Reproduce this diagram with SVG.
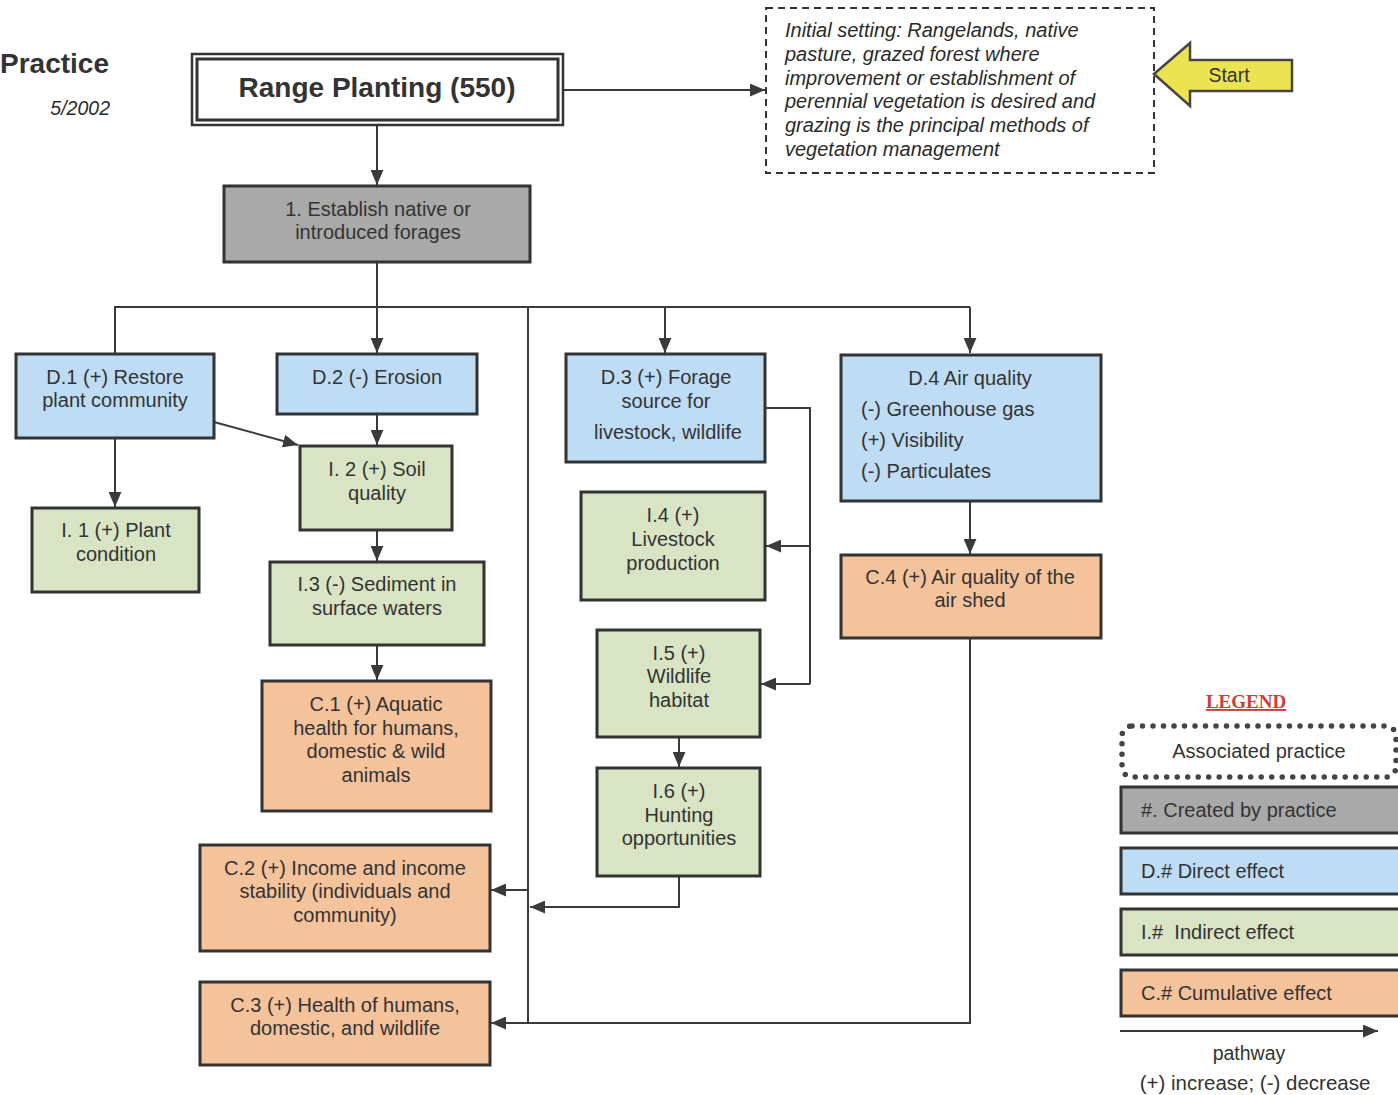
<svg xmlns="http://www.w3.org/2000/svg" width="1398" height="1095" viewBox="0 0 1398 1095">
  <style>
    .t { font-family: "Liberation Sans", Arial, sans-serif; font-size: 20px; fill: #333; text-anchor: middle; }
    .l { text-anchor: start; }
    .it { font-family: "Liberation Sans", Arial, sans-serif; font-size: 20px; font-style: italic; fill: #2a2a2a; }
    .box { stroke: #333; stroke-width: 3; }
    .gray { fill: #a9a9a9; }
    .blue { fill: #bfdcf5; }
    .green { fill: #d8e4c3; }
    .orange { fill: #f4c29b; }
    .wire { fill: none; stroke: #3a3a3a; stroke-width: 2; }
    .arr { marker-end: url(#head); }
  </style>
  <defs>
    <marker id="head" viewBox="0 0 14 12" refX="14" refY="6" markerWidth="15" markerHeight="13" markerUnits="userSpaceOnUse" orient="auto">
      <path d="M0,0 L14,6 L0,12 Z" fill="#3a3a3a"/>
    </marker>
  </defs>

  <rect width="1398" height="1095" fill="#ffffff"/>

  <!-- heading -->
  <g id="heading">
    <text x="0" y="73" style="font-family:'Liberation Sans',Arial,sans-serif;font-size:28px;font-weight:bold;fill:#333">Practice</text>
    <text x="110" y="115" class="it" style="font-size:19.5px;text-anchor:end">5/2002</text>
  </g>

  <!-- connectors -->
  <g id="connectors">
    <path class="wire arr" d="M563,90 H765"/>
    <path class="wire arr" d="M377,125 V185"/>
    <path class="wire" d="M377,262 V307"/>
    <path class="wire" d="M115,354 V307 H970"/>
    <path class="wire arr" d="M377,307 V353"/>
    <path class="wire arr" d="M665,307 V353"/>
    <path class="wire arr" d="M970,307 V353"/>
    <path class="wire" d="M528,307 V1023"/>
    <path class="wire arr" d="M115,438 V507"/>
    <path class="wire arr" d="M214,422 L298,445"/>
    <path class="wire arr" d="M377,414 V445"/>
    <path class="wire arr" d="M377,530 V561"/>
    <path class="wire arr" d="M377,645 V680"/>
    <path class="wire" d="M765,408 H810 V684"/>
    <path class="wire arr" d="M810,546 H766"/>
    <path class="wire arr" d="M810,684 H761"/>
    <path class="wire arr" d="M679,737 V767"/>
    <path class="wire arr" d="M679,876 V907 H530"/>
    <path class="wire arr" d="M528,890 H491"/>
    <path class="wire arr" d="M970,501 V554"/>
    <path class="wire arr" d="M970,638 V1023 H491"/>
  </g>

  <!-- practice -->
  <g id="range-planting">
    <rect x="192" y="54" width="371" height="71" fill="#fff" stroke="#333" stroke-width="2.5"/>
    <rect x="197" y="59" width="361" height="61" fill="none" stroke="#333" stroke-width="3"/>
    <text x="377" y="97" class="t" style="font-size:28px;font-weight:bold">Range Planting (550)</text>
  </g>

  <g id="initial-setting">
    <rect x="766" y="8" width="388" height="165" fill="#fff" stroke="#333" stroke-width="2" stroke-dasharray="7 5"/>
    <text class="it">
      <tspan x="785" y="37">Initial setting: Rangelands, native</tspan>
      <tspan x="785" y="61">pasture, grazed forest where</tspan>
      <tspan x="785" y="85">improvement or establishment of</tspan>
      <tspan x="785" y="108">perennial vegetation is desired and</tspan>
      <tspan x="785" y="132">grazing is the principal methods of</tspan>
      <tspan x="785" y="156">vegetation management</tspan>
    </text>
  </g>

  <g id="start">
    <polygon points="1154,74 1190,43 1190,60 1292,60 1292,91 1190,91 1190,106" fill="#ece352" stroke="#444" stroke-width="2.5" stroke-linejoin="miter"/>
    <text x="1229" y="82" class="t" style="font-size:19.5px">Start</text>
  </g>

  <g id="n1">
    <rect x="224" y="186" width="306" height="76" class="box gray"/>
    <text class="t"><tspan x="378" y="216">1. Establish native or</tspan><tspan x="378" y="239">introduced forages</tspan></text>
  </g>

  <!-- direct effects -->
  <g id="d1">
    <rect x="16" y="354" width="198" height="84" class="box blue"/>
    <text class="t"><tspan x="115" y="384">D.1 (+) Restore</tspan><tspan x="115" y="407">plant community</tspan></text>
  </g>
  <g id="d2">
    <rect x="277" y="354" width="200" height="60" class="box blue"/>
    <text x="377" y="384" class="t">D.2 (-) Erosion</text>
  </g>
  <g id="d3">
    <rect x="566" y="354" width="199" height="108" class="box blue"/>
    <text class="t"><tspan x="666" y="384">D.3 (+) Forage</tspan><tspan x="666" y="408">source for</tspan><tspan x="668" y="439">livestock, wildlife</tspan></text>
  </g>
  <g id="d4">
    <rect x="841" y="355" width="260" height="146" class="box blue"/>
    <text x="970" y="385" class="t">D.4 Air quality</text>
    <text class="t l"><tspan x="861" y="416">(-) Greenhouse gas</tspan><tspan x="861" y="447">(+) Visibility</tspan><tspan x="861" y="478">(-) Particulates</tspan></text>
  </g>

  <!-- indirect effects -->
  <g id="i1">
    <rect x="32" y="508" width="167" height="84" class="box green"/>
    <text class="t"><tspan x="116" y="537">I. 1 (+) Plant</tspan><tspan x="116" y="561">condition</tspan></text>
  </g>
  <g id="i2">
    <rect x="300" y="446" width="152" height="84" class="box green"/>
    <text class="t"><tspan x="377" y="476">I. 2 (+) Soil</tspan><tspan x="377" y="500">quality</tspan></text>
  </g>
  <g id="i3">
    <rect x="270" y="562" width="214" height="83" class="box green"/>
    <text class="t"><tspan x="377" y="591">I.3 (-) Sediment in</tspan><tspan x="377" y="615">surface waters</tspan></text>
  </g>
  <g id="i4">
    <rect x="581" y="492" width="184" height="108" class="box green"/>
    <text class="t"><tspan x="673" y="522">I.4 (+)</tspan><tspan x="673" y="546">Livestock</tspan><tspan x="673" y="570">production</tspan></text>
  </g>
  <g id="i5">
    <rect x="597" y="630" width="163" height="107" class="box green"/>
    <text class="t"><tspan x="679" y="660">I.5 (+)</tspan><tspan x="679" y="683">Wildlife</tspan><tspan x="679" y="707">habitat</tspan></text>
  </g>
  <g id="i6">
    <rect x="597" y="768" width="163" height="108" class="box green"/>
    <text class="t"><tspan x="679" y="798">I.6 (+)</tspan><tspan x="679" y="822">Hunting</tspan><tspan x="679" y="845">opportunities</tspan></text>
  </g>

  <!-- cumulative effects -->
  <g id="c1">
    <rect x="262" y="681" width="229" height="130" class="box orange"/>
    <text class="t"><tspan x="376" y="711">C.1 (+) Aquatic</tspan><tspan x="376" y="735">health for humans,</tspan><tspan x="376" y="758">domestic &amp; wild</tspan><tspan x="376" y="782">animals</tspan></text>
  </g>
  <g id="c2">
    <rect x="200" y="845" width="290" height="106" class="box orange"/>
    <text class="t"><tspan x="345" y="875">C.2 (+) Income and income</tspan><tspan x="345" y="898">stability (individuals and</tspan><tspan x="345" y="922">community)</tspan></text>
  </g>
  <g id="c3">
    <rect x="200" y="982" width="290" height="83" class="box orange"/>
    <text class="t"><tspan x="345" y="1012">C.3 (+) Health of humans,</tspan><tspan x="345" y="1035">domestic, and wildlife</tspan></text>
  </g>
  <g id="c4">
    <rect x="841" y="555" width="260" height="83" class="box orange"/>
    <text class="t"><tspan x="970" y="584">C.4 (+) Air quality of the</tspan><tspan x="970" y="607">air shed</tspan></text>
  </g>

  <!-- legend -->
  <g id="legend">
    <text x="1246" y="708" style="font-family:'Liberation Serif','Times New Roman',serif;font-size:19px;font-weight:bold;fill:#d43a3a;text-anchor:middle;text-decoration:underline">LEGEND</text>
    <rect x="1122" y="726" width="274" height="51" rx="10" fill="#fff" stroke="#444" stroke-width="5.5" stroke-linecap="round" stroke-dasharray="0 10.5"/>
    <text x="1259" y="758" class="t">Associated practice</text>
    <rect x="1121" y="787" width="290" height="46" class="box gray"/>
    <text x="1141" y="817" class="t l">#. Created by practice</text>
    <rect x="1121" y="848" width="290" height="46" class="box blue"/>
    <text x="1141" y="878" class="t l">D.# Direct effect</text>
    <rect x="1121" y="909" width="290" height="46" class="box green"/>
    <text x="1141" y="939" class="t l" xml:space="preserve">I.#  Indirect effect</text>
    <rect x="1121" y="970" width="290" height="46" class="box orange"/>
    <text x="1141" y="1000" class="t l">C.# Cumulative effect</text>
    <path class="wire arr" d="M1120,1031 H1378"/>
    <text x="1249" y="1060" class="t" style="font-size:19.5px">pathway</text>
    <text x="1255" y="1090" class="t" style="font-size:20.5px">(+) increase; (-) decrease</text>
  </g>
</svg>
